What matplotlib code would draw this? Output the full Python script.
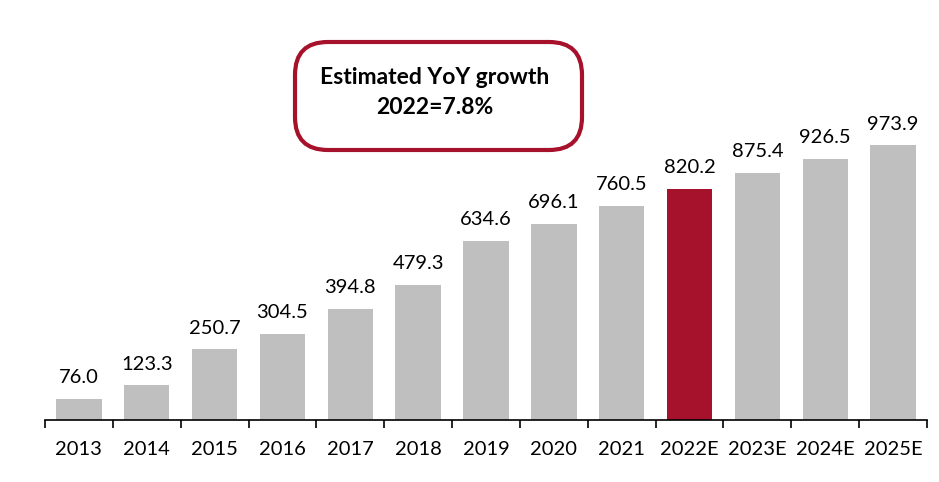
import numpy as np
import matplotlib.pyplot as plt
from matplotlib.patches import FancyBboxPatch

plt.rcParams['font.family'] = ['Lato', 'DejaVu Sans']

years = ['2013', '2014', '2015', '2016', '2017', '2018', '2019',
         '2020', '2021', '2022E', '2023E', '2024E', '2025E']
values = [76.0, 123.3, 250.7, 304.5, 394.8, 479.3, 634.6,
          696.1, 760.5, 820.2, 875.4, 926.5, 973.9]
highlight = '2022E'

gray = '#BFBFBF'
red = '#A6112B'

W, H = 939, 482
fig = plt.figure(figsize=(W / 100, H / 100), dpi=100)

# axes placed in pixel terms: x 45..927, baseline at y=420
ax = fig.add_axes([45 / W, (H - 420) / H, (927 - 45) / W, 410 / H])
x = np.arange(len(years))
colors = [red if y == highlight else gray for y in years]
bars = ax.bar(x, values, width=0.67, color=colors)

ax.set_xlim(-0.5, len(years) - 0.5)
ax.set_ylim(0, 410 / 0.282)

for xi, v in zip(x, values):
    ax.text(xi, v + 45, f'{v:.1f}', ha='center', va='bottom', fontsize=14.5)

ax.set_xticks(x)
ax.set_xticklabels(years, fontsize=14.5)
ax.tick_params(axis='x', length=0, pad=15)
# separator ticks between categories
ax.set_xticks(np.arange(-0.5, len(years)), minor=True)
ax.tick_params(axis='x', which='minor', length=6, width=1.2, color='black')
ax.set_yticks([])
for s in ['top', 'right', 'left']:
    ax.spines[s].set_visible(False)
ax.spines['bottom'].set_linewidth(1.2)

# callout box
box = FancyBboxPatch((295 / W, 1 - 150 / H), 287 / W, 108 / H,
                     boxstyle='round,pad=0,rounding_size=0.035',
                     transform=fig.transFigure, facecolor='white',
                     edgecolor=red, linewidth=3, mutation_aspect=W / H)
fig.patches.append(box)
fig.text(435 / W, 1 - 78 / H, 'Estimated YoY growth', ha='center', va='center',
         fontsize=16.5, fontweight='bold')
fig.text(435 / W, 1 - 108 / H, '2022=7.8%', ha='center', va='center',
         fontsize=16.5, fontweight='bold')

fig.savefig('out.png', dpi=100)
